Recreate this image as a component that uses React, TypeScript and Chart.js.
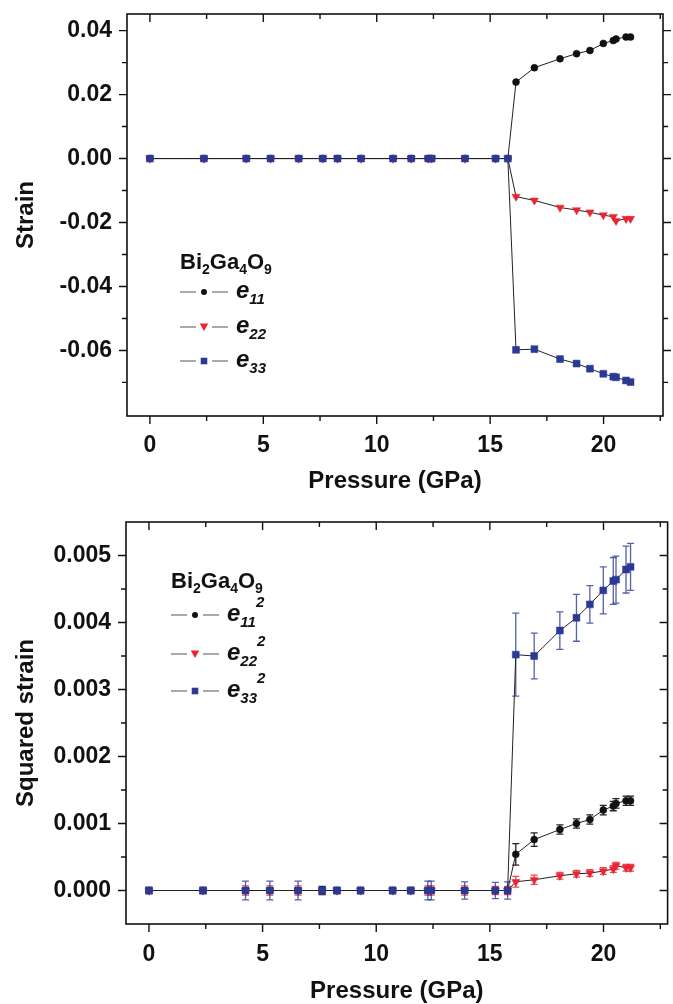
import React, { useEffect, useRef } from "react";
import { Chart, registerables } from "chart.js";
Chart.register(...registerables);

const FONT = 'Arial, "Liberation Sans", Helvetica, sans-serif';
const BLACK = "#111111";
const RED = "#ea2430";
const BLUE = "#2a3a94";

// ---------- data ----------
const pressure = [0, 2.38, 4.25, 5.32, 6.56, 7.62, 8.27, 9.31, 10.72, 11.52, 12.27, 12.42, 13.89, 15.24, 15.78, 16.14, 16.95, 18.08, 18.81, 19.4, 19.99, 20.43, 20.55, 20.99, 21.19];

const e11 = [0, 0, 0, 0, 0, 0, 0, 0, 0, 0, 0, 0, 0, 0, 0, 0.0239, 0.0284, 0.0312, 0.0328, 0.0338, 0.036, 0.0369, 0.0374, 0.038, 0.038];
const e22 = [0, 0, 0, 0, 0, 0, 0, 0, 0, 0, 0, 0, 0, 0, 0, -0.0119, -0.0131, -0.0153, -0.0161, -0.0168, -0.0177, -0.0182, -0.0195, -0.0188, -0.0188];
const e33 = [0, 0, 0, 0, 0, 0, 0, 0, 0, 0, 0, 0, 0, 0, 0, -0.0598, -0.0596, -0.0627, -0.0641, -0.0657, -0.0673, -0.0682, -0.0684, -0.0694, -0.0699];

const e11sq = [0, 0, 0, 0, 0, 0, 0, 0, 0, 0, 0, 0, 0, 0, 0, 0.00054, 0.00076, 0.00091, 0.001, 0.00106, 0.0012, 0.00126, 0.0013, 0.00134, 0.00134];
const e22sq = [0, 0, 0, 0, 0, 0, 0, 0, 0, 0, 0, 0, 0, 0, 0, 0.00013, 0.00016, 0.00022, 0.00025, 0.00026, 0.00029, 0.00032, 0.00037, 0.00034, 0.00034];
const e33sq = [0, 0, 0, 0, 0, 0, 0, 0, 0, 0, 0, 0, 0, 0, 0, 0.00352, 0.0035, 0.00388, 0.00407, 0.00427, 0.00448, 0.00462, 0.00464, 0.00479, 0.00483];

const e11sqErr = [0.00003, 0.00003, 0.00003, 0.00003, 0.00003, 0.00006, 0.00003, 0.00003, 0.00003, 0.00003, 0.00003, 0.00003, 0.00003, 0.00003, 0.00003, 0.00016, 0.0001, 0.00007, 0.00007, 0.00007, 0.00007, 0.00007, 0.00007, 0.00007, 0.00007];
const e22sqErr = [0.00004, 0.00004, 0.00007, 0.00007, 0.00007, 0.00004, 0.00004, 0.00004, 0.00004, 0.00004, 0.00007, 0.00007, 0.00007, 0.00006, 0.00006, 0.00008, 0.00007, 0.00005, 0.00005, 0.00005, 0.00005, 0.00005, 0.00005, 0.00005, 0.00005];
const e33sqErr = [0.00005, 0.00005, 0.00014, 0.00014, 0.00014, 0.00005, 0.00005, 0.00005, 0.00005, 0.00005, 0.00014, 0.00014, 0.00013, 0.00012, 0.00013, 0.00062, 0.00034, 0.00028, 0.00035, 0.00028, 0.00035, 0.00035, 0.00035, 0.00035, 0.00035];

// ---------- ticks ----------
const xMajor = [0, 5, 10, 15, 20];
const xMinor = [2.5, 7.5, 12.5, 17.5, 22.5];
const topYMajor = [0.04, 0.02, 0, -0.02, -0.04, -0.06];
const topYMinor = [0.03, 0.01, -0.01, -0.03, -0.05, -0.07];
const botYMajor = [0, 0.001, 0.002, 0.003, 0.004, 0.005];
const botYMinor = [0.0005, 0.0015, 0.0025, 0.0035, 0.0045];

const mkData = (ys: number[]) => pressure.map((x, i) => ({ x, y: ys[i] }));

// ---------- plugins ----------
const errorBarPlugin = {
  id: "errorBars",
  beforeDatasetDraw(chart: any, args: any) {
    const ds = chart.data.datasets[args.index];
    if (!ds.errors) return;
    const ys = chart.scales.y;
    const ctx = chart.ctx;
    ctx.save();
    ctx.strokeStyle = ds.errColor;
    ctx.lineWidth = 1.3;
    args.meta.data.forEach((pt: any, i: number) => {
      const e = ds.errors[i];
      if (!e) return;
      const v = ds.data[i].y;
      const yt = ys.getPixelForValue(v + e);
      const yb = ys.getPixelForValue(v - e);
      const x = pt.x;
      ctx.beginPath();
      ctx.moveTo(x, yt);
      ctx.lineTo(x, yb);
      ctx.moveTo(x - 3.5, yt);
      ctx.lineTo(x + 3.5, yt);
      ctx.moveTo(x - 3.5, yb);
      ctx.lineTo(x + 3.5, yb);
      ctx.stroke();
    });
    ctx.restore();
  },
};

function framePlugin(cfg: { yMajor: number[]; yMinor: number[]; rightInward: boolean }) {
  return {
    id: "frame",
    afterDraw(chart: any) {
      const { ctx, chartArea: a, scales } = chart;
      const xs = scales.x;
      const ys = scales.y;
      ctx.save();
      ctx.strokeStyle = "#111";
      ctx.lineWidth = 1.6;
      ctx.strokeRect(a.left, a.top, a.right - a.left, a.bottom - a.top);
      ctx.lineWidth = 1.4;
      ctx.beginPath();
      const xt = (vals: number[], len: number) => {
        vals.forEach((v) => {
          const px = xs.getPixelForValue(v);
          ctx.moveTo(px, a.bottom);
          ctx.lineTo(px, a.bottom + len);
          ctx.moveTo(px, a.top);
          ctx.lineTo(px, a.top + len);
        });
      };
      xt(xMajor, 8);
      xt(xMinor, 5);
      const yt = (vals: number[], len: number) => {
        vals.forEach((v) => {
          const py = ys.getPixelForValue(v);
          ctx.moveTo(a.left, py);
          ctx.lineTo(a.left - len, py);
          ctx.moveTo(a.right, py);
          ctx.lineTo(cfg.rightInward ? a.right - len : a.right + len, py);
        });
      };
      yt(cfg.yMajor, 8);
      yt(cfg.yMinor, 5);
      ctx.stroke();
      ctx.restore();
    },
  };
}

type Run = { t: string; s: number; it?: boolean; dy?: number };
function drawRuns(ctx: CanvasRenderingContext2D, x: number, y: number, runs: Run[]) {
  let cx = x;
  for (const r of runs) {
    ctx.font = `${r.it ? "italic " : ""}bold ${r.s}px ${FONT}`;
    ctx.fillText(r.t, cx, y + (r.dy || 0));
    cx += ctx.measureText(r.t).width;
  }
}

function drawMarker(ctx: CanvasRenderingContext2D, kind: string, x: number, y: number) {
  ctx.beginPath();
  if (kind === "circle") {
    ctx.fillStyle = BLACK;
    ctx.arc(x, y, 3, 0, Math.PI * 2);
  } else if (kind === "tri") {
    ctx.fillStyle = RED;
    ctx.moveTo(x - 4.2, y - 3.5);
    ctx.lineTo(x + 4.2, y - 3.5);
    ctx.lineTo(x, y + 4);
    ctx.closePath();
  } else {
    ctx.fillStyle = BLUE;
    ctx.rect(x - 3.3, y - 3.3, 6.6, 6.6);
  }
  ctx.fill();
}

function legendPlugin(cfg: { x: number; titleY: number; rows: number[]; sq: boolean }) {
  return {
    id: "customLegend",
    afterDraw(chart: any) {
      const ctx: CanvasRenderingContext2D = chart.ctx;
      ctx.save();
      ctx.fillStyle = "#111";
      ctx.textBaseline = "alphabetic";
      drawRuns(ctx, cfg.x, cfg.titleY, [
        { t: "Bi", s: 22 },
        { t: "2", s: 14, dy: 5 },
        { t: "Ga", s: 22 },
        { t: "4", s: 14, dy: 5 },
        { t: "O", s: 22 },
        { t: "9", s: 14, dy: 5 },
      ]);
      const kinds = ["circle", "tri", "sq"];
      const subs = ["11", "22", "33"];
      cfg.rows.forEach((ry, i) => {
        ctx.strokeStyle = "#555";
        ctx.lineWidth = 1.2;
        ctx.beginPath();
        ctx.moveTo(cfg.x, ry);
        ctx.lineTo(cfg.x + 16, ry);
        ctx.moveTo(cfg.x + 32, ry);
        ctx.lineTo(cfg.x + 48, ry);
        ctx.stroke();
        drawMarker(ctx, kinds[i], cfg.x + 24, ry);
        ctx.fillStyle = "#111";
        const runs: Run[] = [
          { t: "e", s: 24, it: true, dy: 6 },
          { t: subs[i], s: 15, it: true, dy: 12 },
        ];
        if (cfg.sq) runs.push({ t: "2", s: 15, it: true, dy: -8 });
        drawRuns(ctx, cfg.x + 56, ry, runs);
      });
      ctx.restore();
    },
  };
}

// ---------- configs ----------
const tickFont = { family: FONT, size: 23, weight: "bold" as const };
const titleFont = { family: FONT, size: 24, weight: "bold" as const };

function baseConfig(opts: any) {
  const pointStyleFor = (k: string) =>
    k === "c" ? { pointStyle: "circle", pointRadius: 3.5, pointRotation: 0, color: BLACK } :
    k === "t" ? { pointStyle: "triangle", pointRadius: 4.7, pointRotation: 180, color: RED } :
    { pointStyle: "rect", pointRadius: 4.9, pointRotation: 0, color: BLUE };
  const mk = (ys: number[], k: string, order: number, errs?: number[]) => {
    const p = pointStyleFor(k);
    return {
      data: mkData(ys),
      showLine: true,
      borderColor: "#222",
      borderWidth: 1,
      pointStyle: p.pointStyle,
      pointRadius: p.pointRadius,
      pointRotation: p.pointRotation,
      pointBackgroundColor: p.color,
      pointBorderColor: p.color,
      pointBorderWidth: 0.5,
      order,
      errors: errs,
      errColor: k === "c" ? "#222" : k === "t" ? "rgba(234,36,48,0.85)" : "rgba(42,58,148,0.8)",
    };
  };
  return {
    type: "scatter",
    data: {
      datasets: [
        mk(opts.s1, "c", 2, opts.err1),
        mk(opts.s2, "t", 1, opts.err2),
        mk(opts.s3, "s", 0, opts.err3),
      ],
    },
    options: {
      responsive: false,
      animation: false,
      events: [],
      layout: { padding: { top: opts.padTop, right: opts.padRight, left: 0, bottom: 0 } },
      plugins: { legend: { display: false }, tooltip: { enabled: false } },
      scales: {
        x: {
          type: "linear",
          min: opts.xmin,
          max: opts.xmax,
          grid: { display: false, drawTicks: false, tickLength: 0 },
          border: { display: false },
          afterBuildTicks: (s: any) => { s.ticks = xMajor.map((v) => ({ value: v })); },
          afterFit: (s: any) => { s.height = opts.xHeight; s.paddingLeft = 0; s.paddingRight = 0; },
          ticks: { font: tickFont, color: "#111", padding: opts.xTickPad, autoSkip: false, maxRotation: 0, callback: (v: any) => String(v) },
          title: { display: true, text: "Pressure (GPa)", font: titleFont, color: "#111", padding: { top: 0, bottom: opts.xTitlePad } },
        },
        y: {
          type: "linear",
          min: opts.ymin,
          max: opts.ymax,
          grid: { display: false, drawTicks: false, tickLength: 0 },
          border: { display: false },
          afterBuildTicks: (s: any) => { s.ticks = opts.yMajor.map((v: number) => ({ value: v })); },
          afterFit: (s: any) => { s.width = opts.yWidth; s.paddingTop = 0; s.paddingBottom = 0; },
          ticks: { font: tickFont, color: "#111", padding: 15, autoSkip: false, callback: (v: any) => Number(v).toFixed(opts.dec) },
          title: { display: true, text: opts.yTitle, font: titleFont, color: "#111", padding: { top: 12, bottom: 0 } },
        },
      },
    },
    plugins: [errorBarPlugin, framePlugin({ yMajor: opts.yMajor, yMinor: opts.yMinor, rightInward: opts.rightInward }), legendPlugin(opts.legend)],
  };
}

const topConfig = () =>
  baseConfig({
    s1: e11, s2: e22, s3: e33,
    padTop: 14, padRight: 10, xHeight: 84, yWidth: 127,
    xmin: -1.01, xmax: 22.62, ymin: -0.0805, ymax: 0.0452,
    yMajor: topYMajor, yMinor: topYMinor, dec: 2, yTitle: "Strain",
    xTickPad: 16, xTitlePad: 4, rightInward: false,
    legend: { x: 180, titleY: 269, rows: [292, 327, 361], sq: false },
  });

const bottomConfig = () =>
  baseConfig({
    s1: e11sq, s2: e22sq, s3: e33sq,
    err1: e11sqErr, err2: e22sqErr, err3: e33sqErr,
    padTop: 22, padRight: 1, xHeight: 80, yWidth: 126,
    xmin: -1.01, xmax: 22.82, ymin: -0.0005, ymax: 0.0055,
    yMajor: botYMajor, yMinor: botYMinor, dec: 3, yTitle: "Squared strain",
    xTickPad: 17, xTitlePad: -2, rightInward: true,
    legend: { x: 171, titleY: 88, rows: [115, 154, 191], sq: true },
  });

function ChartBox({ make, top, height }: { make: () => any; top: number; height: number }) {
  const ref = useRef<HTMLCanvasElement>(null);
  useEffect(() => {
    const chart = new Chart(ref.current as HTMLCanvasElement, make());
    return () => chart.destroy();
  }, []);
  return (
    <div style={{ position: "absolute", left: 0, top, width: 673, height }}>
      <canvas ref={ref} width={673} height={height} style={{ display: "block" }} />
    </div>
  );
}

export default function App() {
  return (
    <div style={{ position: "absolute", left: 0, top: 0, width: 673, height: 1004, background: "#fff", overflow: "hidden" }}>
      <ChartBox make={topConfig} top={0} height={500} />
      <ChartBox make={bottomConfig} top={500} height={504} />
    </div>
  );
}
